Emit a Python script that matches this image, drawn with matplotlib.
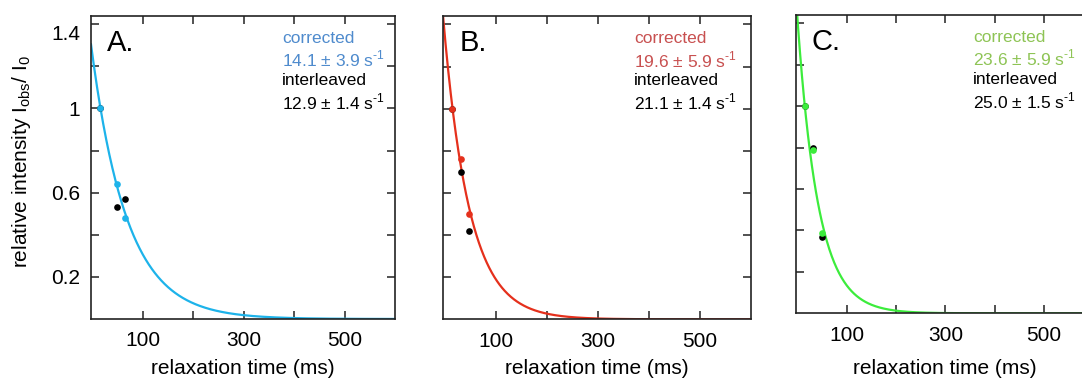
import numpy as np
import matplotlib
matplotlib.use("Agg")
import matplotlib.pyplot as plt

plt.rcParams['font.family'] = ['Liberation Sans', 'DejaVu Sans']
plt.rcParams['mathtext.fontset'] = 'custom'
plt.rcParams['mathtext.rm'] = 'Liberation Sans'

# ---- data ----
panel_labels = ["A.", "B.", "C."]
corrected_rates = ["14.1 \u00b1 3.9", "19.6 \u00b1 5.9", "23.6 \u00b1 5.9"]
interleaved_rates = ["12.9 \u00b1 1.4", "21.1 \u00b1 1.4", "25.0 \u00b1 1.5"]

# fit parameters (rate in s^-1, amplitude)
fit_rate = [14.1, 19.6, 23.6]
fit_amp = [1.25, 1.36, 1.42]

# corrected data points (ms, relative intensity)
corr_t_A = [15, 48, 65]
corr_y_A = [1.00, 0.64, 0.48]
corr_t_B = [15, 32, 48]
corr_y_B = [1.00, 0.76, 0.50]
corr_t_C = [15, 31, 49]
corr_y_C = [1.00, 0.79, 0.39]

# interleaved data points
int_t_A = [15, 48, 65]
int_y_A = [1.00, 0.53, 0.57]
int_t_B = [15, 32, 48]
int_y_B = [1.00, 0.70, 0.42]
int_t_C = [15, 31, 49]
int_y_C = [1.00, 0.80, 0.37]

corr_t = [corr_t_A, corr_t_B, corr_t_C]
corr_y = [corr_y_A, corr_y_B, corr_y_C]
int_t = [int_t_A, int_t_B, int_t_C]
int_y = [int_y_A, int_y_B, int_y_C]

curve_colors = ["#1db3ea", "#e5301c", "#3cec3c"]
text_colors = ["#4f8bcd", "#c85050", "#8ec455"]

ytick_major = [0.2, 0.6, 1.0, 1.4]
ytick_labels = ["0.2", "0.6", "1", ""]
ytick_top_label = "1.4"
ytick_minor = [0.4, 0.8, 1.2]
xtick_major = [100, 300, 500]
xtick_labels = ["100", "300", "500"]
xtick_minor = [200, 400]

unit = " s$^{\\mathregular{\u2010}\\mathregular{1}}$"

W, H = 1082, 379
fig = plt.figure(figsize=(W / 100, H / 100), dpi=100)

# axes rectangles in pixels: left, right, top, bottom
rects = [(91, 395, 15.7, 319), (443, 751, 16, 319.3), (796, 1093.5, 15, 313.3)]
xlabel_pads = [6, 6, 10.5]

for i, (l, r, t, b) in enumerate(rects):
    ax = fig.add_axes([l / W, (H - b) / H, (r - l) / W, (b - t) / H])
    ax.set_xlim(-3, 600)
    ax.set_ylim(0, 1.44)
    tt = np.linspace(-3, 600, 600)
    ax.plot(tt, fit_amp[i] * np.exp(-fit_rate[i] * tt / 1000.0),
            color=curve_colors[i], lw=1.6, zorder=2)
    ax.plot(int_t[i], int_y[i], 'o', color='black', ms=4.8, mec='none', zorder=3)
    ax.plot(corr_t[i], corr_y[i], 'o', color=curve_colors[i], ms=4.8, mec='none', zorder=4)

    ax.set_yticks(ytick_major)
    ax.set_yticks(ytick_minor, minor=True)
    ax.set_xticks(xtick_major)
    ax.set_xticks(xtick_minor, minor=True)
    ax.set_xticklabels(xtick_labels)
    if i == 0:
        ax.set_yticklabels(ytick_labels)
        ax.annotate(ytick_top_label, xy=(0, ytick_major[-1]), xycoords=('axes fraction', 'data'),
                    xytext=(-8, -6), textcoords='offset points', ha='right', va='center_baseline',
                    fontsize=15)
    else:
        ax.set_yticklabels([])
    for which in ("major", "minor"):
        ax.tick_params(axis='both', which=which, direction='in', length=6, width=1.1,
                       top=True, right=True, color='#222222')
    ax.tick_params(axis='x', which='major', labelsize=15, pad=9)
    ax.tick_params(axis='y', which='major', labelsize=15, pad=8)
    for sp in ax.spines.values():
        sp.set_linewidth(1.2)
        sp.set_color('#222222')
    ax.set_xlabel("relaxation time (ms)", fontsize=15, labelpad=xlabel_pads[i])

    ax.text(0.053, 0.91, panel_labels[i], transform=ax.transAxes, fontsize=21,
            ha='left', va='center')
    tx = [0.628, 0.62, 0.596][i]
    y0 = 0.926
    dy = 21.2 / (b - t)
    ax.text(tx, y0, "corrected", transform=ax.transAxes, fontsize=12.5,
            color=text_colors[i], ha='left', va='center')
    ax.text(tx, y0 - dy, corrected_rates[i] + unit, transform=ax.transAxes,
            fontsize=12.5, color=text_colors[i], ha='left', va='center')
    ax.text(tx, y0 - 2 * dy, "interleaved", transform=ax.transAxes, fontsize=12.5,
            color='black', ha='left', va='center')
    ax.text(tx, y0 - 3 * dy, interleaved_rates[i] + unit, transform=ax.transAxes,
            fontsize=12.5, color='black', ha='left', va='center')

# y label placed at its measured pixel position, scaled to the measured length
lab = fig.text(22 / W, (H - 161.5) / H,
               r"relative intensity I$_{\mathregular{obs}}$/ I$_{\mathregular{0}}$",
               rotation=90, ha='center', va='center', fontsize=15)
fig.canvas.draw()
bb = lab.get_window_extent()
target_len = 217.0
lab.set_fontsize(15 * min(1.0, target_len / bb.height))

fig.savefig("out.png", dpi=100)
